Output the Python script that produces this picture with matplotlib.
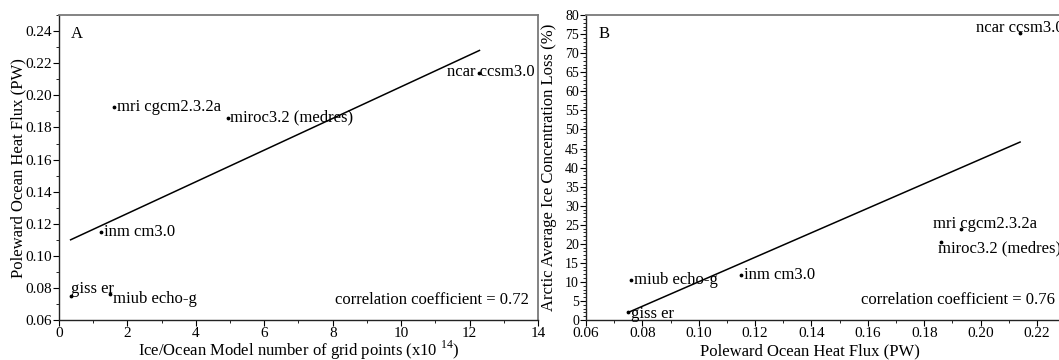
import matplotlib
matplotlib.use("Agg")
import matplotlib.pyplot as plt
from matplotlib.ticker import MultipleLocator, FormatStrFormatter

plt.rcParams['font.family'] = ['Liberation Serif', 'DejaVu Serif']
plt.rcParams['mathtext.fontset'] = 'custom'
plt.rcParams['mathtext.rm'] = 'Liberation Serif'

# model data
models = ["giss er", "miub echo-g", "inm cm3.0", "mri cgcm2.3.2a", "miroc3.2 (medres)", "ncar ccsm3.0"]
grid_points = [0.34, 1.5, 1.22, 1.6, 4.93, 12.29]          # x10^14
heat_flux = [0.075, 0.076, 0.115, 0.193, 0.186, 0.214]     # PW
ice_loss = [2.0, 10.5, 11.8, 23.8, 20.5, 75.2]             # %

# regression line end points
fit_a_x = [0.34, 12.29]
fit_a_y = [0.110, 0.228]
fit_b_x = [0.075, 0.214]
fit_b_y = [2.0, 46.7]

corr_a = 0.72
corr_b = 0.76

# label offsets in points (dx, dy, ha, va)
lab_a = [(0, -1, 'left', 'bottom'), (2, -3, 'left', 'center'), (2, 0, 'left', 'center'),
         (2, 0, 'left', 'center'), (2, 0, 'left', 'center'), (8, 1, 'center', 'center')]
lab_b = [(2, -1, 'left', 'center'), (2, 0, 'left', 'center'), (2, 0, 'left', 'center'),
         (-20, 4, 'left', 'center'), (-2, -5, 'left', 'center'), (0, 4, 'center', 'center')]

fig = plt.figure(figsize=(10.59, 3.6), dpi=100)
ax1 = fig.add_axes([0.0557, 0.111, 0.4523, 0.847])
ax2 = fig.add_axes([0.5533, 0.111, 0.4467, 0.847])


def style(ax):
    for s in ['top', 'right']:
        ax.spines[s].set_color('#7a7a7a')
        ax.spines[s].set_linewidth(1.3)
    for s in ['left', 'bottom']:
        ax.spines[s].set_color('#222222')
        ax.spines[s].set_linewidth(1.0)
    ax.tick_params(which='major', direction='out', length=4, width=0.8,
                   labelsize=11, top=False, right=False, pad=1)
    ax.tick_params(which='minor', direction='out', length=2, width=0.6,
                   top=False, right=False)


# panel A
ax1.plot(fit_a_x, fit_a_y, color='black', linewidth=1.1)
ax1.scatter(grid_points, heat_flux, s=3, color='black', zorder=3)
for name, x, y, (dx, dy, ha, va) in zip(models, grid_points, heat_flux, lab_a):
    ax1.annotate(name, (x, y), xytext=(dx, dy), textcoords='offset points',
                 ha=ha, va=va, fontsize=12)
ax1.set_xlim(0, 14)
ax1.set_ylim(0.06, 0.25)
ax1.xaxis.set_major_locator(MultipleLocator(2))
ax1.xaxis.set_minor_locator(MultipleLocator(1))
ax1.yaxis.set_major_locator(MultipleLocator(0.02))
ax1.yaxis.set_minor_locator(MultipleLocator(0.01))
ax1.yaxis.set_major_formatter(FormatStrFormatter('%.2f'))
ax1.set_xlabel(r'Ice/Ocean Model number of grid points (x10$^{\ 14}$)', fontsize=12, va='center')
ax1.set_ylabel('Poleward Ocean Heat Flux (PW)', fontsize=12, va='center')
ax1.xaxis.set_label_coords(0.5, -0.099)
ax1.yaxis.set_label_coords(-0.0856, 0.5)
ax1.text(0.025, 0.965, 'A', transform=ax1.transAxes, fontsize=12, va='top')
ax1.text(0.98, 0.04, 'correlation coefficient = %.2f' % corr_a, transform=ax1.transAxes,
         fontsize=12, ha='right', va='bottom')
style(ax1)

# panel B (runs off the right edge of the picture)
ax2.plot(fit_b_x, fit_b_y, color='black', linewidth=1.1)
ax2.scatter(heat_flux, ice_loss, s=3, color='black', zorder=3)
for name, x, y, (dx, dy, ha, va) in zip(models, heat_flux, ice_loss, lab_b):
    ax2.annotate(name, (x, y), xytext=(dx, dy), textcoords='offset points',
                 ha=ha, va=va, fontsize=12, annotation_clip=False)
ax2.set_xlim(0.06, 0.2278)
ax2.set_ylim(0, 80)
ax2.xaxis.set_major_locator(MultipleLocator(0.02))
ax2.xaxis.set_minor_locator(MultipleLocator(0.01))
ax2.xaxis.set_major_formatter(FormatStrFormatter('%.2f'))
ax2.yaxis.set_major_locator(MultipleLocator(5))
ax2.yaxis.set_minor_locator(MultipleLocator(1))
ax2.set_xlabel('Poleward Ocean Heat Flux (PW)', fontsize=12, va='center')
ax2.set_ylabel('Arctic Average Ice Concentration Loss (%)', fontsize=12, va='center')
ax2.xaxis.set_label_coords(0.4725, -0.103)
ax2.yaxis.set_label_coords(-0.0783, 0.5)
ax2.text(0.024 * 1.073, 0.965, 'B', transform=ax2.transAxes, fontsize=12, va='top')
ax2.text(0.2263, 3.2, 'correlation coefficient = %.2f' % corr_b,
         fontsize=12, ha='right', va='bottom')
style(ax2)
ax2.spines['right'].set_visible(False)
ax2.tick_params(axis='y', labelsize=10)

fig.savefig('out.png', dpi=100)
